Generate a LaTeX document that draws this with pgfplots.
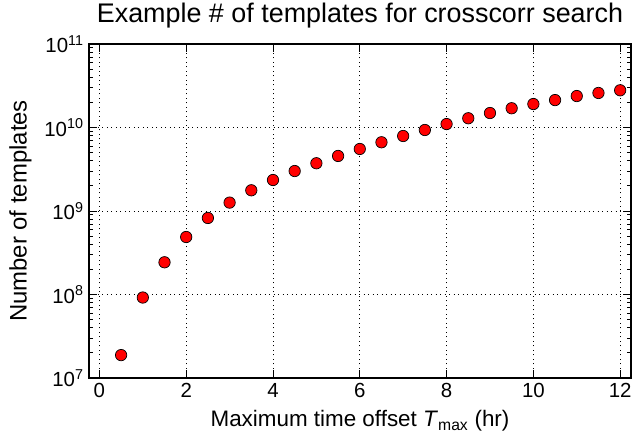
\documentclass[border=0pt]{standalone}
\usepackage{pgfplots}
\pgfplotsset{compat=1.18}
\usepackage{fontspec}
\setmainfont{Liberation Sans}
\begin{document}
\begin{tikzpicture}
\begin{axis}[
  scale only axis,
  width=542bp, height=334bp,
  xmin=-0.24, xmax=12.25,
  ymode=log, ymin=1e7, ymax=1e11,
  xtick={0,2,4,6,8,10,12},
  xticklabels={0,2,4,6,8,10,12},
  ytick={1e7,1e8,1e9,1e10,1e11},
  yticklabels={10\textsuperscript{7},10\textsuperscript{8},10\textsuperscript{9},10\textsuperscript{10},10\textsuperscript{11}},
  tick align=inside,
  major tick length=8bp,
  minor tick length=4bp,
  every tick/.style={black, line width=0.8bp},
  axis line style={line width=1.2bp},
  grid=major,
  major grid style={black, line width=0.9bp, dash pattern=on 1bp off 3.5bp},
  tick label style={font=\fontsize{20.5}{24}\selectfont},
  xticklabel style={yshift=-2bp},
  yticklabel style={xshift=-2bp},
  label style={font=\fontsize{22.5}{26}\selectfont},
  xlabel={Maximum time offset \textit{T}\textsubscript{max} (hr)},
  ylabel={Number of templates},
  xlabel style={at={(axis description cs:0.5,0)}, anchor=base, yshift=-49bp},
  ylabel style={font=\fontsize{24}{28}\selectfont, yshift=6bp},
  title={Example \# of templates for crosscorr search},
  title style={font=\fontsize{27}{32}\selectfont, at={(axis description cs:0.5,1)}, anchor=base, yshift=16bp},
]
\addplot[only marks, mark=*, mark size=5.7bp, mark options={fill=red, draw=black, line width=0.7bp}] coordinates {
(0.5,1.88e7) (1,9.2e7) (1.5,2.43e8) (2,4.88e8) (2.5,8.25e8) (3,1.26e9)
(3.5,1.77e9) (4,2.35e9) (4.5,3.01e9) (5,3.73e9) (5.5,4.56e9) (6,5.53e9)
(6.5,6.65e9) (7,7.91e9) (7.5,9.33e9) (8,1.10e10) (8.5,1.29e10) (9,1.49e10)
(9.5,1.70e10) (10,1.91e10) (10.5,2.13e10) (11,2.38e10) (11.5,2.59e10) (12,2.79e10)
};
\end{axis}
\pgfresetboundingbox
\path[use as bounding box] (-89bp,-56bp) rectangle (545bp,378bp);
\end{tikzpicture}
\end{document}
